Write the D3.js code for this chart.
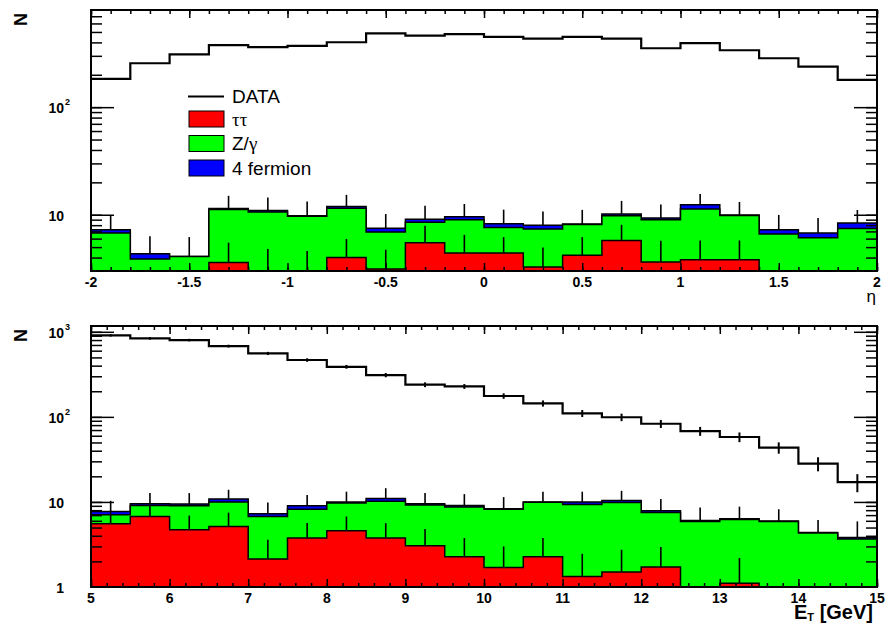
<!DOCTYPE html>
<html>
<head>
<meta charset="utf-8">
<script src="https://cdn.jsdelivr.net/npm/d3@7"></script>
<style>
body { margin: 0; background: #fff; }
text { font-family: "Liberation Sans", Arial, Helvetica, sans-serif; }
</style>
</head>
<body>
<script>
const WIDTH = 888
const HEIGHT = 626
const LEFT = 91
const RIGHT = 877

// ---- eta panel (top) ----
const etaRange = [-2, 2]
const etaData = [183, 256, 310, 377, 361, 371, 401, 486, 462, 477, 450, 433, 450, 433, 353, 393, 338, 285, 238, 179]
const etaTauTau = [0, 0, 0, 3.6, 2.9, 2.9, 4.0, 3.13, 5.5, 4.4, 4.4, 3.27, 4.2, 5.77, 3.64, 3.82, 3.82, 0, 0, 0]
const etaZGamma = [6.76, 3.88, 4.1, 7.6, 7.7, 6.8, 7.5, 3.77, 3.0, 4.6, 3.2, 4.1, 3.9, 4.03, 5.35, 7.48, 6.03, 6.62, 6.12, 7.45]
const etaFourF = [0.5, 0.47, 0, 0.2, 0.36, 0.1, 0.4, 0.6, 0.6, 0.58, 0.65, 0.63, 0.1, 0.35, 0.33, 1.1, 0.08, 0.64, 0.64, 0.92]
const etaTotErr = [2.7, 1.95, 2.1, 3.6, 3.5, 3.5, 3.4, 2.65, 3.0, 3.0, 2.9, 2.7, 2.9, 3.3, 3.1, 3.2, 3.2, 2.7, 2.56, 2.7]
const etaTauErr = [0, 0, 0, 1.9, 1.9, 1.7, 1.95, 1.6, 2.4, 2.1, 1.8, 1.7, 2.0, 2.3, 2.1, 1.95, 1.95, 0, 0, 0]
const etaTicks = [-2, -1.5, -1, -0.5, 0, 0.5, 1, 1.5, 2]
const etaTickLabels = ['-2', '-1.5', '-1', '-0.5', '0', '0.5', '1', '1.5', '2']
const etaYLabels = [{ v: 10, base: '10', exp: '' }, { v: 100, base: '10', exp: '2' }]

// ---- ET panel (bottom) ----
const etRange = [5, 15]
const etData = [907, 836, 799, 679, 557, 466, 388, 310, 239, 228, 176, 144, 110, 99, 83, 68, 58, 43.5, 28.2, 17.1]
const etDataErr = [30, 29, 28, 26, 24, 22, 20, 18, 15.5, 15, 13, 12, 10.5, 10, 9, 8.2, 7.6, 6.6, 5.3, 4.1]
const etTauTau = [5.53, 6.74, 4.7, 5.14, 2.13, 3.76, 4.58, 3.76, 3.05, 2.27, 1.7, 2.27, 1.33, 1.5, 1.72, 0, 1.11, 0, 0, 0]
const etZGamma = [1.53, 2.34, 4.3, 4.86, 4.61, 4.44, 5.12, 6.44, 6.15, 6.43, 6.5, 7.63, 7.97, 8.34, 5.78, 5.9, 5.09, 5.9, 4.3, 3.66]
const etFourF = [0.64, 0.42, 0.43, 0.8, 0.51, 0.8, 0.25, 0.8, 0.3, 0.38, 0.1, 0.1, 0.7, 0.56, 0.36, 0.15, 0.13, 0.05, 0.07, 0.16]
const etTotErr = [2.6, 3.2, 3.27, 3.1, 2.6, 3.1, 3.25, 3.5, 3.2, 3.27, 3.1, 3.2, 3.2, 3.1, 2.94, 2.55, 2.47, 2.25, 1.78, 2.08]
const etTauErr = [2.35, 2.6, 2.22, 2.35, 1.46, 1.88, 2.16, 1.88, 1.75, 1.49, 1.3, 1.49, 1.13, 1.24, 1.23, 0, 1.08, 0, 0, 0]
const etTicks = [5, 6, 7, 8, 9, 10, 11, 12, 13, 14, 15]
const etTickLabels = ['5', '6', '7', '8', '9', '10', '11', '12', '13', '14', '15']
const etYLabels = [{ v: 1, base: '1', exp: '' }, { v: 10, base: '10', exp: '' },
  { v: 100, base: '10', exp: '2' }, { v: 1000, base: '10', exp: '3' }]

// legend
const legendNames = ['DATA', 'ττ', 'Z/γ', '4 fermion']
const COLORS = { tt: '#ff0000', zg: '#00ff00', ff: '#0000ff' }

const svg = d3.select('body').append('svg').attr('width', WIDTH).attr('height', HEIGHT)
const defs = svg.append('defs')

function drawPanel(p) {
  const x = d3.scaleLinear().domain(p.xDomain).range([LEFT, RIGHT])
  const y = d3.scaleLog().domain(p.yDomain).range([p.bottom, p.top])
  const n = p.data.length
  const w = (p.xDomain[1] - p.xDomain[0]) / n
  const lo = i => p.xDomain[0] + i * w
  const floor = p.yDomain[0] / 10
  const yc = v => y(Math.max(v, floor))
  const step = arr => arr.concat([arr[arr.length - 1]]) // extra point closes the last bin

  defs.append('clipPath').attr('id', 'clip' + p.id)
    .append('rect').attr('x', LEFT).attr('y', p.top)
    .attr('width', RIGHT - LEFT).attr('height', p.bottom - p.top)
  const plot = svg.append('g').attr('clip-path', `url(#clip${p.id})`)

  // stacked backgrounds
  const rows = p.data.map((d, i) => ({ tt: p.tt[i], zg: p.zg[i], ff: p.ff[i] }))
  const series = d3.stack().keys(['tt', 'zg', 'ff'])(rows)
  const area = d3.area().curve(d3.curveStepAfter)
    .x((d, i) => x(lo(i))).y0(p.bottom + 5).y1(d => yc(d))
  series.slice().reverse().forEach(s => {
    plot.append('path')
      .datum(step(s.map(d => d[1])))
      .attr('d', area)
      .attr('fill', COLORS[s.key])
      .attr('stroke', '#000')
      .attr('stroke-width', 1.5)
  })

  // MC error bars (upper halves)
  const totals = series[2].map(d => d[1])
  plot.selectAll(null).data(totals).join('line')
    .attr('x1', (d, i) => x(lo(i) + w / 2)).attr('x2', (d, i) => x(lo(i) + w / 2))
    .attr('y1', d => yc(d)).attr('y2', (d, i) => y(d + p.totErr[i]))
    .attr('stroke', '#000').attr('stroke-width', 1.6)
  plot.selectAll(null).data(p.tt.map((v, i) => ({ v, i })).filter(d => p.ttErr[d.i] > 0)).join('line')
    .attr('x1', d => x(lo(d.i) + w / 2)).attr('x2', d => x(lo(d.i) + w / 2))
    .attr('y1', d => yc(d.v)).attr('y2', d => y(d.v + p.ttErr[d.i]))
    .attr('stroke', '#000').attr('stroke-width', 1.6)

  // data
  const line = d3.line().curve(d3.curveStepAfter).x((d, i) => x(lo(i))).y(d => y(d))
  plot.append('path').datum(step(p.data)).attr('d', line)
    .attr('fill', 'none').attr('stroke', '#000').attr('stroke-width', 2.2)
  if (p.dataErr) {
    plot.selectAll(null).data(p.data).join('line')
      .attr('x1', (d, i) => x(lo(i) + w / 2)).attr('x2', (d, i) => x(lo(i) + w / 2))
      .attr('y1', (d, i) => y(d - p.dataErr[i])).attr('y2', (d, i) => y(d + p.dataErr[i]))
      .attr('stroke', '#000').attr('stroke-width', 2)
  }

  // axes ticks (all pointing inward)
  const ax = svg.append('g')
  const minorX = d3.range(p.xDomain[0], p.xDomain[1] + 1e-9, p.minorStep)
  const yTicks = y.ticks().filter(v => v > p.yDomain[0] * 1.001 && v < p.yDomain[1])
  const majorY = yTicks.filter(v => Math.abs(Math.log10(v) - Math.round(Math.log10(v))) < 1e-9)
  const addAxis = (axis, tx, ty) => {
    const g = ax.append('g').attr('transform', `translate(${tx},${ty})`).call(axis)
    g.select('.domain').remove()
    g.selectAll('line').attr('stroke-width', 1.5)
  }
  addAxis(d3.axisBottom(x).tickValues(minorX).tickSize(-4).tickSizeOuter(0).tickFormat(''), 0, p.bottom)
  addAxis(d3.axisBottom(x).tickValues(p.xTicks).tickSize(-8).tickSizeOuter(0).tickFormat(''), 0, p.bottom)
  addAxis(d3.axisTop(x).tickValues(minorX).tickSize(-4).tickSizeOuter(0).tickFormat(''), 0, p.top)
  addAxis(d3.axisTop(x).tickValues(p.xTicks).tickSize(-8).tickSizeOuter(0).tickFormat(''), 0, p.top)
  addAxis(d3.axisLeft(y).tickValues(yTicks).tickSize(-11).tickSizeOuter(0).tickFormat(''), LEFT, 0)
  addAxis(d3.axisLeft(y).tickValues(majorY).tickSize(-23).tickSizeOuter(0).tickFormat(''), LEFT, 0)
  addAxis(d3.axisRight(y).tickValues(yTicks).tickSize(-11).tickSizeOuter(0).tickFormat(''), RIGHT, 0)
  addAxis(d3.axisRight(y).tickValues(majorY).tickSize(-23).tickSizeOuter(0).tickFormat(''), RIGHT, 0)

  svg.append('rect').attr('x', LEFT).attr('y', p.top)
    .attr('width', RIGHT - LEFT).attr('height', p.bottom - p.top)
    .attr('fill', 'none').attr('stroke', '#000').attr('stroke-width', 2)

  // tick labels
  svg.append('g').selectAll('text').data(p.xTicks).join('text')
    .attr('x', d => x(d)).attr('y', p.bottom + 16)
    .attr('text-anchor', 'middle').attr('font-size', 14).attr('font-weight', 'bold')
    .text((d, i) => p.xLabels[i])
  const yl = svg.append('g')
  p.yLabels.forEach(l => {
    yl.append('text').attr('x', 64).attr('y', y(l.v) + 6)
      .attr('text-anchor', 'end').attr('font-size', 14).attr('font-weight', 'bold').text(l.base)
    if (l.exp) {
      yl.append('text').attr('x', 65).attr('y', y(l.v) - 2)
        .attr('font-size', 9).attr('font-weight', 'bold').text(l.exp)
    }
  })

  // y title
  svg.append('text').attr('transform', `translate(27,${p.top + 3}) rotate(-90)`)
    .attr('text-anchor', 'end').attr('font-size', 18).attr('font-weight', 'bold').text('N')
  return { x, y }
}

const etaPanel = drawPanel({
  id: 'eta', top: 10, bottom: 271, xDomain: etaRange, yDomain: [3, 800],
  data: etaData, tt: etaTauTau, zg: etaZGamma, ff: etaFourF,
  totErr: etaTotErr, ttErr: etaTauErr,
  xTicks: etaTicks, xLabels: etaTickLabels, minorStep: 0.1, yLabels: etaYLabels
})
const etPanel = drawPanel({
  id: 'et', top: 326, bottom: 587, xDomain: etRange, yDomain: [1, 1170],
  data: etData, dataErr: etDataErr, tt: etTauTau, zg: etZGamma, ff: etFourF,
  totErr: etTotErr, ttErr: etTauErr,
  xTicks: etTicks, xLabels: etTickLabels, minorStep: 0.2, yLabels: etYLabels
})

// x titles
svg.append('text').attr('x', 876).attr('y', 302).attr('text-anchor', 'end')
  .attr('font-family', '"Liberation Serif", "DejaVu Serif", serif').attr('font-size', 17).text('η')
const etTitle = svg.append('text').attr('x', 873).attr('y', 619).attr('text-anchor', 'end')
  .attr('font-size', 20).attr('font-weight', 'bold')
etTitle.append('tspan').text('E')
etTitle.append('tspan').attr('font-size', 11).attr('dy', 2).text('T')
etTitle.append('tspan').attr('dy', -2).text(' [GeV]')

// legend
const leg = svg.append('g').attr('font-size', 19)
const rowY = [96.5, 119, 143.5, 168]
leg.append('line').attr('x1', 188).attr('x2', 224).attr('y1', rowY[0]).attr('y2', rowY[0])
  .attr('stroke', '#000').attr('stroke-width', 2)
const legColors = [null, COLORS.tt, COLORS.zg, COLORS.ff]
legColors.forEach((c, i) => {
  if (c) {
    leg.append('rect').attr('x', 189).attr('y', rowY[i] - 8).attr('width', 35).attr('height', 16)
      .attr('fill', c).attr('stroke', '#000').attr('stroke-width', 1)
  }
})
legendNames.forEach((name, i) => {
  const t = leg.append('text').attr('x', 232).attr('y', rowY[i] + 6.5)
  if (name.match(/[τγ]/)) {
    name.split('').forEach(ch => {
      const s = t.append('tspan').text(ch)
      if (/[τγ]/.test(ch)) s.attr('font-family', '"Liberation Serif", "DejaVu Serif", serif')
    })
  } else t.text(name)
})
</script>
</body>
</html>
